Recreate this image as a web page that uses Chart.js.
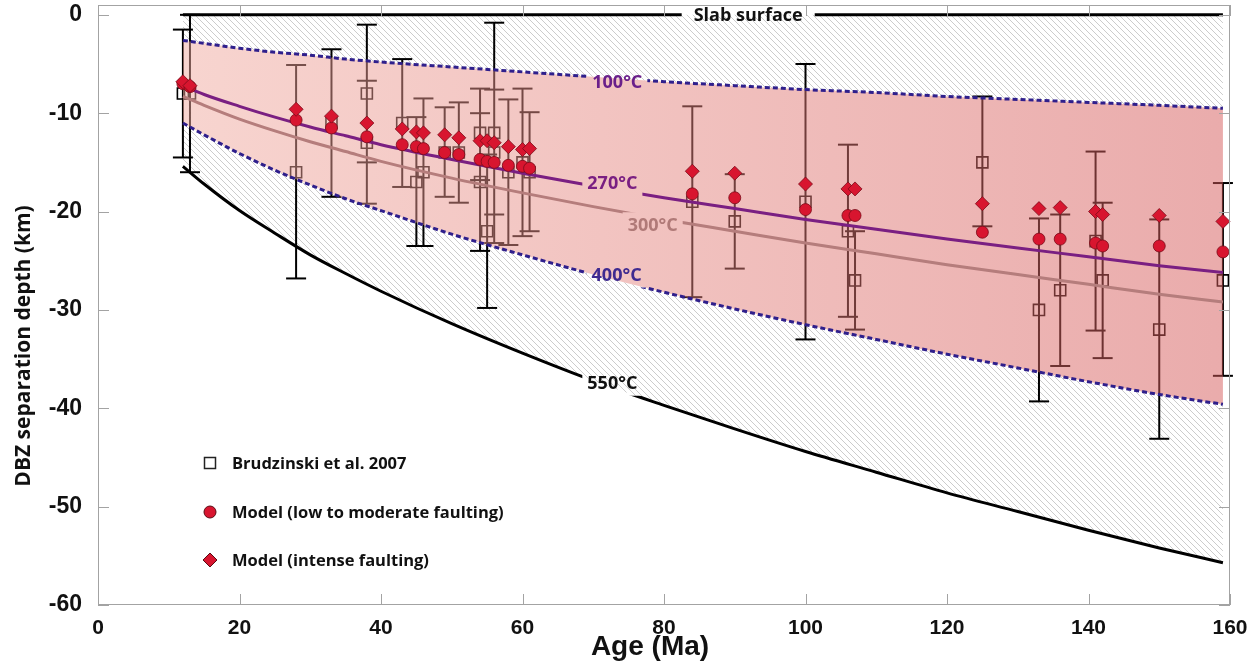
<!DOCTYPE html>
<html>
<head>
<meta charset="utf-8">
<script src="https://cdn.jsdelivr.net/npm/chart.js@4.4.0/dist/chart.umd.min.js"></script>
<style>
  html, body { margin: 0; padding: 0; background: #fff; }
  #wrap { width: 1255px; height: 662px; position: relative; }
</style>
</head>
<body>
<div id="wrap"><canvas id="c"></canvas></div>
<script>
// ── Isotherm curves (depth in km, negative down) ─────────────────────────────
const curveAge = [12, 15, 20, 25, 30, 35, 40, 50, 60, 70, 80, 90, 100, 110, 120, 130, 140, 150, 159];
const slabTop  = [0, 0, 0, 0, 0, 0, 0, 0, 0, 0, 0, 0, 0, 0, 0, 0, 0, 0, 0];
const iso100   = [-2.6, -2.9, -3.4, -3.8, -4.1, -4.5, -4.8, -5.3, -5.8, -6.3, -6.8, -7.2, -7.6, -7.9, -8.3, -8.6, -8.9, -9.2, -9.5];
const iso270   = [-7.2, -8.1, -9.3, -10.4, -11.4, -12.3, -13.2, -14.7, -16.1, -17.4, -18.6, -19.7, -20.8, -21.8, -22.8, -23.7, -24.6, -25.5, -26.2];
const iso300   = [-8.3, -9.2, -10.6, -11.8, -12.9, -13.9, -14.9, -16.6, -18.1, -19.5, -20.8, -22.0, -23.2, -24.3, -25.4, -26.4, -27.4, -28.4, -29.2];
const iso400   = [-11.0, -12.2, -14.1, -15.8, -17.3, -18.7, -19.9, -22.3, -24.4, -26.4, -28.2, -29.9, -31.5, -33.0, -34.5, -35.9, -37.3, -38.6, -39.6];
const iso550   = [-15.4, -17.2, -19.9, -22.2, -24.4, -26.3, -28.1, -31.4, -34.4, -37.2, -39.7, -42.1, -44.4, -46.5, -48.6, -50.5, -52.4, -54.2, -55.7];

// ── Brudzinski et al. 2007 (with error bars) ─────────────────────────────────
const brudAge    = [12, 13, 28, 33, 38, 38, 43, 45, 46, 49, 51, 54, 54, 55, 56, 56, 58, 60, 61, 84, 90, 100, 106, 107, 125, 133, 136, 141, 142, 150, 159];
const brudDepth  = [-8, -8, -16, -11, -8, -13, -11, -17, -16, -14, -14, -12, -17, -22, -12, -14, -16, -15, -16, -19, -21, -19, -22, -27, -15, -30, -28, -23, -27, -32, -27];
const brudTop    = [-1.5, 0, -5.1, -3.5, -1.0, -6.7, -4.5, -10.4, -8.5, -9.4, -8.9, -7.5, -10.0, -14.2, -0.8, -7.6, -8.6, -7.5, -9.9, -9.3, -16.2, -5.0, -13.2, -22.0, -8.3, -20.7, -20.3, -13.9, -19.1, -20.8, -17.1];
const brudBottom = [-14.5, -16.0, -26.8, -18.5, -15.0, -19.2, -17.5, -23.5, -23.5, -18.5, -19.1, -16.8, -24.0, -29.8, -23.2, -20.3, -23.4, -22.5, -22.0, -28.7, -25.8, -33.0, -30.7, -32.0, -21.5, -39.3, -35.7, -32.1, -34.9, -43.1, -36.7];

// ── Model results ────────────────────────────────────────────────────────────
const lowAge   = [12, 13, 28, 33, 38, 43, 45, 46, 49, 51, 54, 55, 56, 58, 60, 61, 84, 90, 100, 106, 107, 125, 133, 136, 141, 142, 150, 159];
const lowDepth = [-7.0, -7.3, -10.7, -11.5, -12.4, -13.2, -13.4, -13.6, -14.0, -14.2, -14.7, -14.9, -15.0, -15.3, -15.4, -15.6, -18.2, -18.6, -19.8, -20.4, -20.4, -22.1, -22.8, -22.8, -23.2, -23.5, -23.5, -24.1];
const intAge   = [12, 13, 28, 33, 38, 43, 45, 46, 49, 51, 54, 55, 56, 58, 60, 61, 84, 90, 100, 106, 107, 125, 133, 136, 141, 142, 150, 159];
const intDepth = [-6.8, -7.2, -9.6, -10.3, -11.0, -11.6, -11.9, -12.0, -12.2, -12.5, -12.8, -12.8, -13.0, -13.4, -13.7, -13.6, -15.9, -16.1, -17.2, -17.7, -17.7, -19.2, -19.7, -19.6, -20.0, -20.3, -20.4, -21.0];

// ── Axes and annotations ─────────────────────────────────────────────────────
const xTicks = [0, 20, 40, 60, 80, 100, 120, 140, 160];
const yTicks = [-60, -50, -40, -30, -20, -10, 0];
const xTitle = 'Age (Ma)';
const yTitle = 'DBZ separation depth (km)';
const labelText  = ['Slab surface', '100°C', '270°C', '300°C', '400°C', '550°C'];
const labelAge   = [91.9, 73.4, 72.7, 78.4, 73.3, 72.7];
const labelDepth = [0, -6.8, -17.1, -21.4, -26.4, -37.4];
const legendText = ['Brudzinski et al. 2007', 'Model (low to moderate faulting)', 'Model (intense faulting)'];

// ── Styles ───────────────────────────────────────────────────────────────────
const labelColor = ['#111111', '#6a1f8a', '#7a1f82', '#b07a78', '#3f2a90', '#111111'];
const RED = '#d8152f';
const LABEL_FONT = 'bold 18px "Open Sans", "Noto Sans", sans-serif';

function pts(xs, ys) { return xs.map((x, i) => ({ x: x, y: ys[i] })); }

const barPts = [];
const capPts = [];
brudAge.forEach((a, i) => {
  barPts.push({ x: a, y: brudTop[i] }, { x: a, y: brudBottom[i] }, { x: a, y: null });
  capPts.push({ x: a, y: brudTop[i] }, { x: a, y: brudBottom[i] });
});

function makeHatch() {
  const s = 6;
  const c = document.createElement('canvas');
  c.width = s; c.height = s;
  const g = c.getContext('2d');
  g.fillStyle = '#ffffff';
  g.fillRect(0, 0, s, s);
  g.strokeStyle = '#c6c6c6';
  g.lineWidth = 0.9;
  g.beginPath();
  for (let k = -1; k <= 1; k++) {
    g.moveTo(k * s - 1, -1);
    g.lineTo(k * s + s + 1, s + 1);
  }
  g.stroke();
  return g.createPattern(c, 'repeat');
}
const hatch = makeHatch();

function pinkBand(ctx) {
  const chart = ctx.chart;
  if (!chart.chartArea) return 'rgba(225,125,120,0.5)';
  const xs = chart.scales.x;
  const g = chart.ctx.createLinearGradient(xs.getPixelForValue(curveAge[0]), 0,
    xs.getPixelForValue(curveAge[curveAge.length - 1]), 0);
  g.addColorStop(0, 'rgba(240,170,160,0.5)');
  g.addColorStop(1, 'rgba(213,89,89,0.5)');
  return g;
}

const NONE = 'rgba(0,0,0,0)';
const datasets = [
  // 0 : upper edge of the band (invisible)
  { data: pts(curveAge, iso100), borderColor: NONE, borderWidth: 0, pointRadius: 0, fill: false, order: 30 },
  // 1 : lower edge of the band, filled up to 100°C
  { data: pts(curveAge, iso400), borderColor: NONE, borderWidth: 0, pointRadius: 0, fill: { target: 0 }, backgroundColor: pinkBand, order: 6 },
  // 2 : hatch between slab surface and 100°C
  { data: pts(curveAge, slabTop), borderColor: NONE, borderWidth: 0, pointRadius: 0, fill: { target: 0 }, backgroundColor: hatch, order: 25 },
  // 3 : hatch between 400°C and 550°C
  { data: pts(curveAge, iso550), borderColor: NONE, borderWidth: 0, pointRadius: 0, fill: { target: 1 }, backgroundColor: hatch, order: 25 },
  // 4 : error bars
  { data: barPts, borderColor: '#000', borderWidth: 2, pointRadius: 0, spanGaps: false, fill: false,
    tension: 0, cubicInterpolationMode: 'default', order: 10, clip: false },
  // 5 : error bar caps
  { data: capPts, showLine: false, pointStyle: 'line', pointRadius: 10, pointBorderColor: '#000',
    pointBorderWidth: 2, order: 10, clip: false },
  // 6 : Brudzinski squares
  { data: pts(brudAge, brudDepth), showLine: false, pointStyle: 'rect', pointRadius: 7.8,
    pointBorderColor: '#000', pointBorderWidth: 1.6, pointBackgroundColor: NONE, order: 10, clip: false },
  // 7..12 : isotherm lines
  { data: pts(curveAge, iso300), borderColor: '#b57d7c', borderWidth: 3, pointRadius: 0, fill: false, order: 4, gapLabel: 3 },
  { data: pts(curveAge, iso270), borderColor: '#7a1f82', borderWidth: 3, pointRadius: 0, fill: false, order: 3, gapLabel: 2 },
  { data: pts(curveAge, iso100), borderColor: '#2f1f8c', borderWidth: 3, borderDash: [5, 3], pointRadius: 0, fill: false, order: 3, gapLabel: 1 },
  { data: pts(curveAge, iso400), borderColor: '#2f1f8c', borderWidth: 3, borderDash: [5, 3], pointRadius: 0, fill: false, order: 3, gapLabel: 4 },
  { data: pts(curveAge, iso550), borderColor: '#000', borderWidth: 3, pointRadius: 0, fill: false, order: 3, gapLabel: 5 },
  { data: pts(curveAge, slabTop), borderColor: '#000', borderWidth: 3, pointRadius: 0, fill: false, order: 3, gapLabel: 0, clip: false },
  // 13 : model, low to moderate faulting
  { data: pts(lowAge, lowDepth), showLine: false, pointStyle: 'circle', pointRadius: 6,
    pointBackgroundColor: RED, pointBorderColor: '#7a0a18', pointBorderWidth: 0.8, order: 1, clip: false },
  // 14 : model, intense faulting
  { data: pts(intAge, intDepth), showLine: false, pointStyle: 'rectRot', pointRadius: 7,
    pointBackgroundColor: RED, pointBorderColor: '#7a0a18', pointBorderWidth: 0.8, order: 0, clip: false },
];

function labelBox(chart, i) {
  const ctx = chart.ctx;
  ctx.save();
  ctx.font = LABEL_FONT;
  const w = ctx.measureText(labelText[i]).width;
  ctx.restore();
  const cx = chart.scales.x.getPixelForValue(labelAge[i]);
  const cy = chart.scales.y.getPixelForValue(labelDepth[i]);
  const pad = i === 0 ? 12 : 5;
  return { x: cx - w / 2 - pad, y: cy - 13, w: w + 2 * pad, h: 26, cx: cx, cy: cy };
}

const deco = {
  id: 'deco',
  beforeDatasetDraw(chart, args) {
    const ds = chart.data.datasets[args.index];
    if (ds.gapLabel === undefined) return;
    const b = labelBox(chart, ds.gapLabel);
    const ctx = chart.ctx;
    ctx.save();
    ctx.beginPath();
    ctx.rect(0, 0, chart.width, chart.height);
    ctx.rect(b.x, b.y, b.w, b.h);
    ctx.clip('evenodd');
  },
  afterDatasetDraw(chart, args) {
    const ds = chart.data.datasets[args.index];
    if (ds.gapLabel === undefined) return;
    chart.ctx.restore();
  },
  afterDatasetsDraw(chart) {
    const ctx = chart.ctx;
    const ca = chart.chartArea;
    ctx.save();
    // isotherm labels
    ctx.font = LABEL_FONT;
    ctx.textAlign = 'center';
    ctx.textBaseline = 'middle';
    labelText.forEach((t, i) => {
      const b = labelBox(chart, i);
      ctx.fillStyle = labelColor[i];
      ctx.fillText(t, b.cx, b.cy + 1);
    });

    // legend
    const lx = ca.left + 112;
    const ly = [ca.top + 458, ca.top + 507, ca.top + 555];
    ctx.font = 'bold 16.5px "Open Sans", "Noto Sans", sans-serif';
    ctx.textAlign = 'left';
    ctx.fillStyle = '#111';
    legendText.forEach((t, i) => ctx.fillText(t, lx + 22, ly[i] + 1));
    ctx.lineWidth = 1.5;
    ctx.strokeStyle = '#222';
    ctx.fillStyle = '#fff';
    ctx.fillRect(lx - 5.5, ly[0] - 5.5, 11, 11);
    ctx.strokeRect(lx - 5.5, ly[0] - 5.5, 11, 11);
    ctx.fillStyle = RED;
    ctx.strokeStyle = '#5a0a12';
    ctx.lineWidth = 1;
    ctx.beginPath();
    ctx.arc(lx, ly[1], 6, 0, Math.PI * 2);
    ctx.fill(); ctx.stroke();
    ctx.beginPath();
    ctx.moveTo(lx, ly[2] - 7); ctx.lineTo(lx + 7, ly[2]);
    ctx.lineTo(lx, ly[2] + 7); ctx.lineTo(lx - 7, ly[2]);
    ctx.closePath();
    ctx.fill(); ctx.stroke();

    // frame with inward ticks
    ctx.strokeStyle = '#a3a3a3';
    ctx.lineWidth = 1;
    ctx.strokeRect(ca.left + 0.5, ca.top + 0.5, ca.right - ca.left - 1, ca.bottom - ca.top - 1);
    ctx.beginPath();
    xTicks.forEach(v => {
      const px = Math.round(chart.scales.x.getPixelForValue(v)) + 0.5;
      ctx.moveTo(px, ca.bottom); ctx.lineTo(px, ca.bottom - 11);
      ctx.moveTo(px, ca.top); ctx.lineTo(px, ca.top + 11);
    });
    yTicks.forEach(v => {
      const py = Math.round(chart.scales.y.getPixelForValue(v)) + 0.5;
      ctx.moveTo(ca.left, py); ctx.lineTo(ca.left + 11, py);
      ctx.moveTo(ca.right, py); ctx.lineTo(ca.right - 11, py);
    });
    ctx.stroke();

    // axis titles
    ctx.fillStyle = '#111';
    ctx.textAlign = 'center';
    ctx.textBaseline = 'middle';
    ctx.font = 'bold 28px "Liberation Sans", Arial, sans-serif';
    ctx.fillText(xTitle, ca.left + 552, 647);
    ctx.save();
    ctx.translate(24, 346);
    ctx.rotate(-Math.PI / 2);
    ctx.font = 'bold 21px "Open Sans", "Noto Sans", sans-serif';
    ctx.fillText(yTitle, 0, 0);
    ctx.restore();
    ctx.restore();
  }
};

new Chart(document.getElementById('c'), {
  type: 'line',
  data: { datasets: datasets },
  options: {
    animation: false,
    responsive: true,
    maintainAspectRatio: false,
    devicePixelRatio: 1,
    elements: { line: { cubicInterpolationMode: 'monotone' } },
    layout: { autoPadding: false, padding: { top: 5, right: 25, left: 0, bottom: 0 } },
    plugins: { legend: { display: false }, tooltip: { enabled: false } },
    scales: {
      x: {
        type: 'linear',
        min: 0,
        max: 160,
        afterBuildTicks: s => { s.ticks = xTicks.map(v => ({ value: v })); },
        afterFit: s => { s.height = 57; s.paddingLeft = 0; s.paddingRight = 0; },
        grid: { display: false },
        border: { display: false },
        ticks: { color: '#111', padding: 3, maxRotation: 0, autoSkip: false,
          font: { family: '"Liberation Sans", Arial, sans-serif', size: 21, weight: 'bold' } },
      },
      y: {
        type: 'linear',
        min: -60,
        max: 1,
        afterBuildTicks: s => { s.ticks = yTicks.map(v => ({ value: v })); },
        afterFit: s => { s.width = 98; s.paddingTop = 0; s.paddingBottom = 0; },
        grid: { display: false },
        border: { display: false },
        ticks: { color: '#111', padding: 8, autoSkip: false,
          font: { family: '"Liberation Sans", Arial, sans-serif', size: 23, weight: 'bold' } },
      },
    },
  },
  plugins: [deco],
});
</script>
</body>
</html>
